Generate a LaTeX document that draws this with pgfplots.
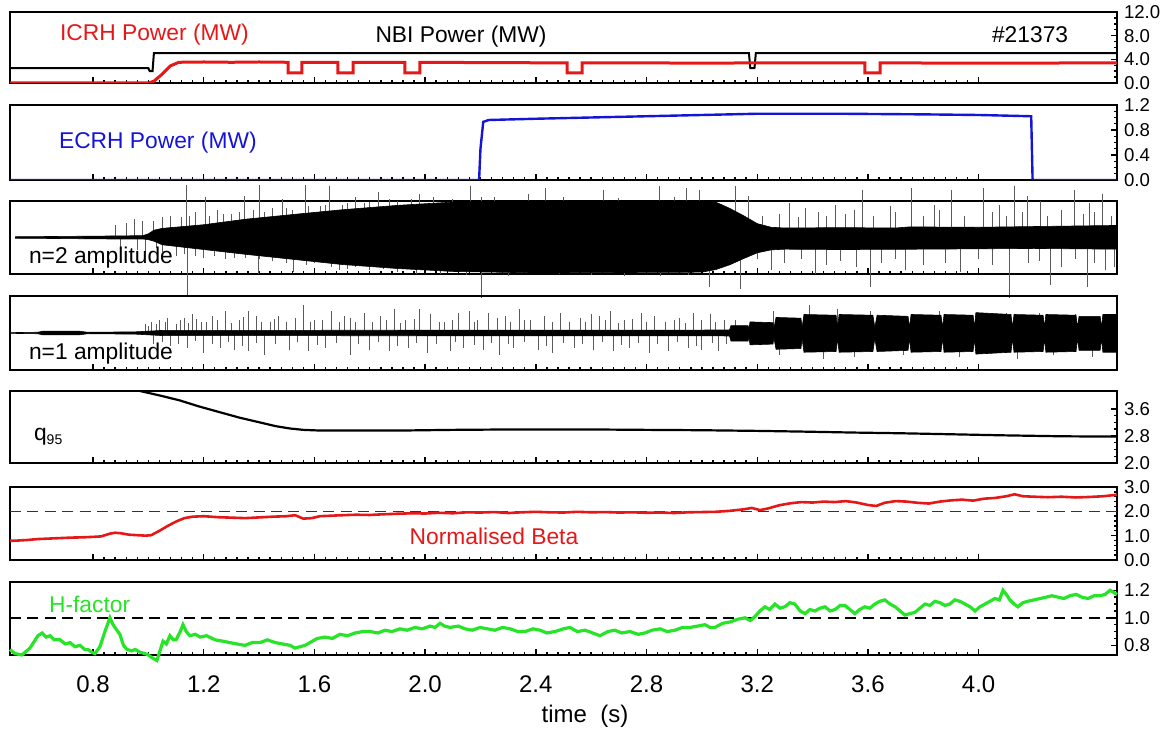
\documentclass[border=0pt]{standalone}
\usepackage{pgfplots}
\pgfplotsset{compat=1.18}
\usepackage{fontspec}
\setmainfont{Liberation Sans}
\definecolor{icrh}{RGB}{228,24,24}
\definecolor{ecrh}{RGB}{20,20,215}
\definecolor{hfac}{RGB}{40,228,40}
\definecolor{spk}{RGB}{90,90,90}
\pgfplotsset{
 panel/.style={
  scale only axis, width=553.5pt, xmin=0.5, xmax=4.5, anchor=north west,
  axis line style={line width=1.2pt},
  xtick={0.8,1.2,1.6,2.0,2.4,2.8,3.2,3.6,4.0}, minor x tick num=9,
  xticklabels={},
  xtick pos=left, ytick pos=right, yticklabel pos=right,
  tick align=inside, major tick length=3pt, minor tick length=1.6pt,
  every tick/.append style={black, line width=0.7pt},
  /pgf/number format/assume math mode=true,
  yticklabel style={font=\fontsize{9.3}{11}\selectfont, /pgf/number format/fixed, /pgf/number format/fixed zerofill, /pgf/number format/precision=1},
 }
}
\newcommand{\lab}{\fontsize{11.4}{13}\selectfont}
\begin{document}
\begin{tikzpicture}
\useasboundingbox (0,0) rectangle (587.5pt,-365.5pt);
% Panel 1: NBI / ICRH
\begin{axis}[panel, at={(5pt,-6pt)}, height=35.5pt, ymin=0, ymax=12, ytick={0,4,8,12}, minor y tick num=3]
\addplot[black, line width=1pt, no marks] coordinates {(0.5,2.5) (1.0,2.5) (1.005,2.0) (1.015,2.0) (1.02,5.05) (3.17,5.05) (3.175,2.5) (3.19,2.5) (3.195,5.05) (4.5,5.05)};
\addplot[icrh, line width=1.5pt, no marks] coordinates {(0.5,0) (1.0,0) (1.02,0.3) (1.05,1.5) (1.08,2.9) (1.11,3.5) (1.2,3.55) (1.3,3.5) (1.4,3.55) (1.505,3.5) (1.505,1.7) (1.555,1.7) (1.555,3.5) (1.685,3.5) (1.685,1.7) (1.74,1.7) (1.74,3.5) (1.927,3.5) (1.927,1.7) (1.981,1.7) (1.981,3.5) (2.2,3.45) (2.513,3.4) (2.513,1.7) (2.567,1.7) (2.567,3.4) (2.8,3.4) (3.0,3.35) (3.2,3.4) (3.589,3.4) (3.589,1.7) (3.644,1.7) (3.644,3.4) (4.0,3.35) (4.5,3.4)};
\end{axis}
% Panel 2: ECRH
\begin{axis}[panel, at={(5pt,-52.5pt)}, height=37.5pt, ymin=0, ymax=1.2, ytick={0,0.4,0.8,1.2}, minor y tick num=3]
\addplot[ecrh, line width=1.2pt, no marks] coordinates {(0.5,0) (2.195,0) (2.2,0.5) (2.21,0.93) (2.23,0.96) (2.4,0.98) (2.6,1.0) (2.8,1.02) (3.0,1.04) (3.2,1.06) (3.5,1.06) (3.8,1.05) (4.0,1.04) (4.19,1.02) (4.195,0) (4.5,0)};
\end{axis}
% Panel 3: n=2 amplitude
\begin{axis}[panel, at={(5pt,-100.5pt)}, height=36.5pt, ymin=-1, ymax=1, ytick=\empty, clip=false]
\addplot[ycomb, spk, line width=0.45pt, no marks] coordinates {
(0.88,0.35) (0.92,0.4) (0.95,0.5) (0.98,0.45) (1.05,0.55) (1.08,0.6) (1.136,1.45) (1.17,0.7) (1.205,1.1) (1.25,0.75) (1.3,0.65)
(1.346,1.15) (1.403,1.45) (1.45,0.8) (1.483,1.05) (1.52,0.75) (1.566,1.45) (1.62,0.85) (1.656,1.4) (1.7,0.9) (1.747,1.1) (1.78,0.95)
(1.83,1.25) (1.9,1.0) (1.981,1.2) (2.162,1.4) (2.202,1.1) (2.372,1.2) (2.433,1.35) (2.643,1.3) (2.845,1.4) (2.946,1.35) (2.993,1.3)
(3.12,1.4) (3.167,1.15) (3.22,0.6) (3.28,0.65) (3.318,0.95) (3.35,0.55) (3.376,0.8) (3.42,0.7) (3.45,0.6) (3.481,0.9) (3.52,0.65)
(3.55,0.75) (3.579,1.3) (3.62,0.6) (3.68,0.85) (3.7,0.7) (3.759,1.35) (3.8,0.6) (3.842,0.9) (3.86,0.75) (3.9,1.3) (3.95,0.6)
(4.016,1.35) (4.05,0.7) (4.077,0.9) (4.1,0.6) (4.131,1.4) (4.16,0.7) (4.178,1.15) (4.222,1.0) (4.25,0.6) (4.3,0.75) (4.348,1.3)
(4.38,0.65) (4.399,0.95) (4.42,0.7) (4.446,1.2) (4.48,0.6)
(1.02,0.45) (1.12,0.55) (1.15,0.6) (1.22,0.6) (1.27,0.65) (1.33,0.7) (1.38,0.75) (1.42,0.7) (1.5,0.8) (1.58,0.85) (1.64,0.9)
(1.72,0.95) (1.8,0.98) (1.87,1.05) (1.95,1.05) (2.03,1.1) (2.1,1.05) (2.25,1.1) (2.5,1.1) (2.7,1.08) (2.9,1.1)};
\addplot[ycomb, spk, line width=0.45pt, no marks] coordinates {
(0.9,-0.3) (0.96,-0.35) (0.99,-0.4) (1.05,-0.4) (1.1,-0.5) (1.14,-1.6) (1.2,-0.55) (1.28,-0.6) (1.35,-0.55) (1.396,-1.0) (1.45,-0.65)
(1.526,-0.95) (1.6,-0.7) (1.692,-0.9) (1.75,-0.8) (1.85,-0.85) (2.054,-1.0) (2.202,-1.65) (2.487,-1.0) (2.722,-1.05) (3.029,-1.35)
(3.138,-1.4) (3.2,-0.6) (3.253,-0.9) (3.3,-0.7) (3.36,-0.6) (3.409,-1.0) (3.45,-0.75) (3.5,-0.65) (3.56,-0.8) (3.608,-1.35)
(3.65,-0.7) (3.7,-0.6) (3.734,-0.9) (3.8,-0.75) (3.88,-0.7) (3.933,-0.95) (4.0,-0.6) (4.05,-0.75) (4.113,-1.65) (4.18,-0.7)
(4.22,-0.65) (4.258,-1.3) (4.3,-0.8) (4.35,-0.6) (4.395,-1.35) (4.42,-0.7) (4.457,-0.9) (4.49,-0.8)
(1.03,-0.3) (1.13,-0.45) (1.17,-0.5) (1.24,-0.5) (1.31,-0.55) (1.4,-0.6) (1.5,-0.7) (1.57,-0.75) (1.66,-0.8) (1.72,-0.85)
(1.8,-0.9) (1.9,-0.95) (1.97,-1.0) (2.15,-1.02) (2.3,-1.05) (2.6,-1.02) (2.85,-1.05) (2.95,-1.03)};
\addplot[fill=black, draw=black, line width=0.3pt, no marks] coordinates {
(0.52,0.02) (0.7,0.03) (0.85,0.04) (0.98,0.05) (1.0,0.1) (1.02,0.2) (1.05,0.25) (1.2,0.35) (1.35,0.5) (1.55,0.65) (1.7,0.76)
(1.9,0.88) (2.1,0.97) (2.3,1.0) (3.0,1.0) (3.05,0.97) (3.1,0.8) (3.15,0.6) (3.2,0.38) (3.25,0.28) (3.3,0.26) (3.5,0.27)
(3.7,0.26) (3.75,0.29) (4.0,0.28) (4.2,0.3) (4.4,0.32) (4.5,0.33)
(4.5,-0.32) (4.2,-0.3) (3.8,-0.32) (3.5,-0.33) (3.3,-0.32) (3.25,-0.34) (3.2,-0.42) (3.15,-0.58) (3.1,-0.75) (3.05,-0.88)
(3.0,-0.95) (2.4,-0.97) (2.1,-0.93) (1.9,-0.85) (1.7,-0.74) (1.55,-0.62) (1.35,-0.46) (1.2,-0.33) (1.05,-0.2) (1.02,-0.1)
(1.0,-0.06) (0.98,-0.04) (0.85,-0.04) (0.7,-0.03) (0.52,-0.02)} -- cycle;
\end{axis}
% Panel 4: n=1 amplitude
\begin{axis}[panel, at={(5pt,-148pt)}, height=37pt, ymin=-1, ymax=1, ytick=\empty]
\addplot[ycomb, spk, line width=0.45pt, no marks] coordinates {
(0.99,0.25) (1.01,0.3) (1.04,0.35) (1.07,0.4) (1.1,0.25) (1.13,0.4) (1.16,0.5) (1.19,0.3) (1.23,0.45) (1.28,0.6) (1.33,0.35)
(1.36,0.6) (1.39,0.45) (1.44,0.3) (1.47,0.45) (1.56,0.75) (1.6,0.35) (1.66,0.6) (1.71,0.45) (1.75,0.3) (1.78,0.55) (1.84,0.45)
(1.89,0.65) (1.93,0.35) (1.98,0.65) (2.02,0.5) (2.07,0.3) (2.12,0.55) (2.16,0.6) (2.19,0.35) (2.23,0.55) (2.29,0.45) (2.34,0.65)
(2.38,0.35) (2.43,0.45) (2.49,0.55) (2.52,0.3) (2.6,0.5) (2.63,0.45) (2.67,0.6) (2.72,0.35) (2.78,0.55) (2.83,0.45) (2.87,0.3)
(2.92,0.4) (2.97,0.55) (3.03,0.5) (3.08,0.35) (3.26,0.6) (3.39,0.75) (3.49,0.65) (3.61,0.6) (3.86,0.6) (4.1,0.55) (4.22,0.55) (4.35,0.5)
(1.0,0.2) (1.03,0.25) (1.06,0.3) (1.115,0.35) (1.145,0.28) (1.175,0.38) (1.21,0.3) (1.25,0.35) (1.3,0.28) (1.345,0.42) (1.41,0.3)
(1.455,0.38) (1.5,0.3) (1.53,0.4) (1.585,0.3) (1.63,0.35) (1.69,0.3) (1.73,0.4) (1.81,0.3) (1.86,0.35) (1.91,0.28) (1.96,0.38)
(2.05,0.3) (2.1,0.35) (2.18,0.3) (2.26,0.4) (2.31,0.3) (2.36,0.35) (2.46,0.3) (2.56,0.4) (2.58,0.3) (2.65,0.35) (2.7,0.28)
(2.75,0.38) (2.8,0.3) (2.9,0.35) (2.94,0.28) (3.0,0.35) (3.05,0.3) (3.12,0.35)};
\addplot[ycomb, spk, line width=0.45pt, no marks] coordinates {
(1.02,-0.3) (1.08,-0.35) (1.14,-0.4) (1.2,-0.55) (1.26,-0.4) (1.31,-0.45) (1.36,-0.5) (1.42,-0.6) (1.51,-0.45) (1.58,-0.5)
(1.64,-0.4) (1.73,-0.6) (1.8,-0.45) (1.87,-0.5) (1.94,-0.4) (2.01,-0.55) (2.09,-0.5) (2.14,-0.4) (2.21,-0.45) (2.27,-0.6)
(2.32,-0.4) (2.41,-0.45) (2.46,-0.55) (2.54,-0.4) (2.61,-0.45) (2.68,-0.5) (2.74,-0.4) (2.81,-0.55) (2.88,-0.5) (2.95,-0.4)
(3.0,-0.45) (3.06,-0.5) (3.28,-0.6) (3.44,-0.7) (3.55,-0.65) (3.73,-0.6) (3.93,-0.65) (4.14,-0.7) (4.27,-0.6) (4.41,-0.65)
(1.05,-0.25) (1.11,-0.3) (1.17,-0.22) (1.23,-0.3) (1.29,-0.25) (1.34,-0.35) (1.39,-0.28) (1.46,-0.3) (1.54,-0.25) (1.61,-0.32)
(1.68,-0.28) (1.76,-0.3) (1.83,-0.25) (1.9,-0.35) (1.97,-0.28) (2.04,-0.3) (2.11,-0.25) (2.18,-0.33) (2.24,-0.28) (2.3,-0.3)
(2.36,-0.25) (2.44,-0.35) (2.5,-0.28) (2.57,-0.3) (2.64,-0.25) (2.71,-0.33) (2.77,-0.28) (2.84,-0.3) (2.91,-0.25) (2.98,-0.35)
(3.04,-0.28) (3.09,-0.3)};
\addplot[fill=black, draw=black, line width=0.3pt, no marks] coordinates {
(0.5,0.01) (0.6,0.02) (0.62,0.05) (0.75,0.05) (0.78,0.02) (0.95,0.03) (1.0,0.05) (1.05,0.07) (3.1,0.08)
(3.105,0.2) (3.167,0.2) (3.17,0.1) (3.174,0.3) (3.257,0.28) (3.26,0.12) (3.268,0.42) (3.358,0.4) (3.362,0.15)
(3.369,0.5) (3.485,0.48) (3.49,0.15) (3.496,0.5) (3.618,0.48) (3.625,0.15) (3.633,0.48) (3.745,0.45) (3.75,0.15)
(3.756,0.5) (3.864,0.48) (3.87,0.15) (3.875,0.5) (3.98,0.48) (3.985,0.15) (3.99,0.55) (4.117,0.5) (4.122,0.15)
(4.128,0.5) (4.233,0.48) (4.238,0.15) (4.243,0.5) (4.352,0.48) (4.357,0.15) (4.363,0.45) (4.439,0.45) (4.444,0.15)
(4.449,0.5) (4.5,0.5)
(4.5,-0.52) (4.449,-0.52) (4.444,-0.15) (4.439,-0.47) (4.363,-0.47) (4.357,-0.15) (4.352,-0.5) (4.243,-0.52) (4.238,-0.15)
(4.233,-0.5) (4.128,-0.52) (4.122,-0.15) (4.117,-0.52) (3.99,-0.57) (3.985,-0.15) (3.98,-0.5) (3.875,-0.52) (3.87,-0.15)
(3.864,-0.5) (3.756,-0.52) (3.75,-0.15) (3.745,-0.47) (3.633,-0.5) (3.625,-0.15) (3.618,-0.5) (3.496,-0.52) (3.49,-0.15)
(3.485,-0.5) (3.369,-0.52) (3.362,-0.15) (3.358,-0.42) (3.268,-0.44) (3.26,-0.12) (3.257,-0.3) (3.174,-0.32) (3.17,-0.1)
(3.167,-0.22) (3.105,-0.22) (3.1,-0.08) (1.05,-0.07) (1.0,-0.05) (0.95,-0.03) (0.78,-0.02) (0.75,-0.05) (0.62,-0.05)
(0.6,-0.02) (0.5,-0.01)} -- cycle;
\end{axis}
% Panel 5: q95
\begin{axis}[panel, at={(5pt,-195.5pt)}, height=36pt, ymin=2.0, ymax=4.13, ytick={2.0,2.8,3.6}, minor y tick num=3]
\addplot[black, line width=1.1pt, no marks] coordinates {(0.97,4.13) (1.05,3.98) (1.114,3.85) (1.18,3.68) (1.259,3.5) (1.33,3.34) (1.403,3.2) (1.46,3.09) (1.512,3.02) (1.56,2.98) (1.62,2.96) (1.75,2.96) (1.909,2.96) (2.1,2.98) (2.27,2.99) (2.45,2.99) (2.632,2.99) (2.8,2.98) (2.993,2.97) (3.2,2.95) (3.355,2.93) (3.55,2.9) (3.716,2.88) (3.9,2.85) (4.077,2.82) (4.3,2.79) (4.5,2.78)};
\end{axis}
% Panel 6: Beta
\begin{axis}[panel, at={(5pt,-243.5pt)}, height=36.5pt, ymin=0, ymax=3, ytick={0,1,2,3}, minor y tick num=4]
\addplot[black!80, line width=0.8pt, dash pattern=on 5.5pt off 3.2pt, no marks] coordinates {(0.5,2) (4.5,2)};
\addplot[icrh, line width=1.3pt, no marks] coordinates {
(0.50,0.79) (0.53,0.80) (0.56,0.82) (0.60,0.86) (0.64,0.88) (0.68,0.90) (0.72,0.92) (0.76,0.93) (0.80,0.95) (0.83,0.97)
(0.86,1.08) (0.88,1.12) (0.90,1.10) (0.93,1.04) (0.96,1.02) (0.99,1.00) (1.01,1.02) (1.04,1.20) (1.07,1.40) (1.10,1.58)
(1.13,1.72) (1.16,1.78) (1.20,1.80) (1.25,1.76) (1.30,1.74) (1.35,1.72) (1.40,1.75) (1.45,1.78) (1.50,1.80) (1.53,1.84)
(1.56,1.70) (1.59,1.72) (1.62,1.80) (1.66,1.82) (1.70,1.84) (1.75,1.86) (1.80,1.85) (1.85,1.88) (1.90,1.90) (1.95,1.92)
(2.00,1.91) (2.05,1.94) (2.10,1.92) (2.15,1.96) (2.20,1.95) (2.25,1.97) (2.30,1.93) (2.35,1.96) (2.40,1.98) (2.45,1.96)
(2.50,1.95) (2.55,1.98) (2.60,1.96) (2.65,1.97) (2.70,1.95) (2.75,1.96) (2.80,1.94) (2.85,1.95) (2.90,1.93) (2.95,1.96)
(3.00,1.97) (3.05,1.98) (3.10,2.02) (3.15,2.08) (3.18,2.14) (3.21,2.05) (3.24,2.12) (3.28,2.25) (3.32,2.33) (3.36,2.38)
(3.40,2.36) (3.44,2.40) (3.48,2.38) (3.52,2.42) (3.56,2.36) (3.60,2.26) (3.63,2.22) (3.66,2.35) (3.70,2.42) (3.74,2.40)
(3.78,2.35) (3.82,2.32) (3.86,2.40) (3.90,2.45) (3.94,2.48) (3.98,2.44) (4.02,2.52) (4.06,2.55) (4.10,2.62) (4.13,2.70)
(4.16,2.62) (4.20,2.60) (4.25,2.58) (4.30,2.60) (4.35,2.57) (4.40,2.59) (4.45,2.62) (4.50,2.68)};
\end{axis}
% Panel 7: H-factor
\begin{axis}[panel, at={(5pt,-291pt)}, height=36.5pt, ymin=0.73, ymax=1.26, ytick={0.8,1.0,1.2}, minor y tick num=3, clip=false,
  xticklabels={0.8,1.2,1.6,2.0,2.4,2.8,3.2,3.6,4.0},
  xticklabel style={font=\fontsize{12}{14}\selectfont, yshift=-7pt}]
\addplot[black, line width=1pt, dash pattern=on 5.5pt off 3.2pt, no marks] coordinates {(0.5,1.0) (4.5,1.0)};
\addplot[hfac, line width=1.6pt, no marks] coordinates {
(0.5,0.77) (0.518,0.74) (0.543,0.73) (0.572,0.78) (0.601,0.87) (0.616,0.89) (0.63,0.86) (0.645,0.87) (0.66,0.84) (0.681,0.84)
(0.7,0.81) (0.717,0.82) (0.735,0.79) (0.753,0.8) (0.77,0.77) (0.782,0.77) (0.795,0.75) (0.807,0.74) (0.825,0.79) (0.843,0.9)
(0.861,1.0) (0.87,0.96) (0.879,0.93) (0.897,0.88) (0.91,0.8) (0.923,0.77) (0.94,0.76) (0.952,0.77) (0.97,0.75) (0.988,0.74)
(1.0,0.73) (1.013,0.71) (1.031,0.69) (1.045,0.78) (1.053,0.83) (1.065,0.81) (1.078,0.87) (1.09,0.84) (1.1,0.84) (1.115,0.9)
(1.125,0.95) (1.137,0.9) (1.15,0.87) (1.17,0.88) (1.187,0.86) (1.21,0.87) (1.241,0.84) (1.27,0.83) (1.295,0.82) (1.32,0.81)
(1.349,0.8) (1.375,0.82) (1.403,0.82) (1.43,0.84) (1.458,0.82) (1.485,0.81) (1.512,0.8) (1.53,0.78) (1.548,0.79) (1.566,0.8)
(1.584,0.82) (1.61,0.85) (1.638,0.86) (1.665,0.85) (1.692,0.88) (1.72,0.87) (1.747,0.89) (1.775,0.9) (1.801,0.9) (1.83,0.89)
(1.855,0.91) (1.88,0.9) (1.909,0.92) (1.935,0.91) (1.963,0.93) (1.99,0.92) (2.018,0.94) (2.036,0.93) (2.054,0.96) (2.07,0.94)
(2.09,0.93) (2.12,0.94) (2.144,0.92) (2.17,0.91) (2.198,0.93) (2.225,0.92) (2.252,0.91) (2.28,0.93) (2.307,0.92) (2.335,0.9)
(2.361,0.9) (2.39,0.92) (2.415,0.91) (2.44,0.89) (2.469,0.9) (2.5,0.92) (2.523,0.93) (2.55,0.9) (2.578,0.91) (2.605,0.89)
(2.632,0.87) (2.66,0.9) (2.686,0.91) (2.71,0.89) (2.74,0.9) (2.77,0.88) (2.794,0.89) (2.82,0.91) (2.849,0.92) (2.875,0.9)
(2.903,0.91) (2.93,0.93) (2.957,0.93) (2.985,0.94) (3.011,0.95) (3.03,0.93) (3.047,0.93) (3.075,0.96) (3.102,0.97) (3.13,0.99)
(3.156,1.0) (3.175,0.98) (3.192,1.01) (3.21,1.05) (3.228,1.08) (3.245,1.06) (3.264,1.1) (3.282,1.07) (3.3,1.08) (3.318,1.11)
(3.336,1.1) (3.355,1.05) (3.373,1.03) (3.39,1.06) (3.409,1.05) (3.427,1.07) (3.445,1.08) (3.463,1.05) (3.481,1.06) (3.5,1.09)
(3.517,1.09) (3.535,1.06) (3.553,1.03) (3.57,1.06) (3.589,1.08) (3.607,1.07) (3.625,1.1) (3.643,1.12) (3.661,1.13) (3.68,1.1)
(3.698,1.08) (3.716,1.05) (3.734,1.02) (3.752,1.03) (3.77,1.04) (3.788,1.07) (3.806,1.1) (3.824,1.09) (3.842,1.12) (3.86,1.11)
(3.878,1.09) (3.896,1.1) (3.914,1.13) (3.932,1.12) (3.951,1.1) (3.969,1.08) (3.987,1.05) (4.005,1.08) (4.023,1.1) (4.041,1.12)
(4.059,1.14) (4.075,1.13) (4.088,1.2) (4.1,1.17) (4.113,1.13) (4.128,1.1) (4.142,1.08) (4.16,1.11) (4.178,1.12) (4.2,1.13)
(4.222,1.14) (4.244,1.15) (4.265,1.16) (4.287,1.15) (4.308,1.14) (4.33,1.16) (4.352,1.17) (4.373,1.15) (4.395,1.14) (4.417,1.16)
(4.439,1.16) (4.457,1.17) (4.475,1.2) (4.5,1.17)};
\end{axis}
% Text
\node[anchor=west, text=icrh] at (26.5pt,-17.5pt) {\lab ICRH Power (MW)};
\node[text=black] at (230.5pt,-18.5pt) {\lab NBI Power (MW)};
\node[anchor=west] at (492.5pt,-17.5pt) {\lab \#21373};
\node[anchor=west, text=ecrh] at (26pt,-71.5pt) {\lab ECRH Power (MW)};
\node[anchor=west] at (11pt,-129pt) {\lab n=2 amplitude};
\node[anchor=west] at (11pt,-177pt) {\lab n=1 amplitude};
\node[anchor=west] at (13.5pt,-218.5pt) {\lab q\raisebox{-0.35ex}{\fontsize{7}{8}\selectfont 95}};
\node[text=icrh] at (247pt,-268pt) {\lab Normalised Beta};
\node[anchor=west, text=hfac] at (21pt,-302pt) {\lab H-factor};
\node at (292.5pt,-358pt) {\fontsize{12}{14}\selectfont time\ \ (s)};
\end{tikzpicture}
\end{document}
